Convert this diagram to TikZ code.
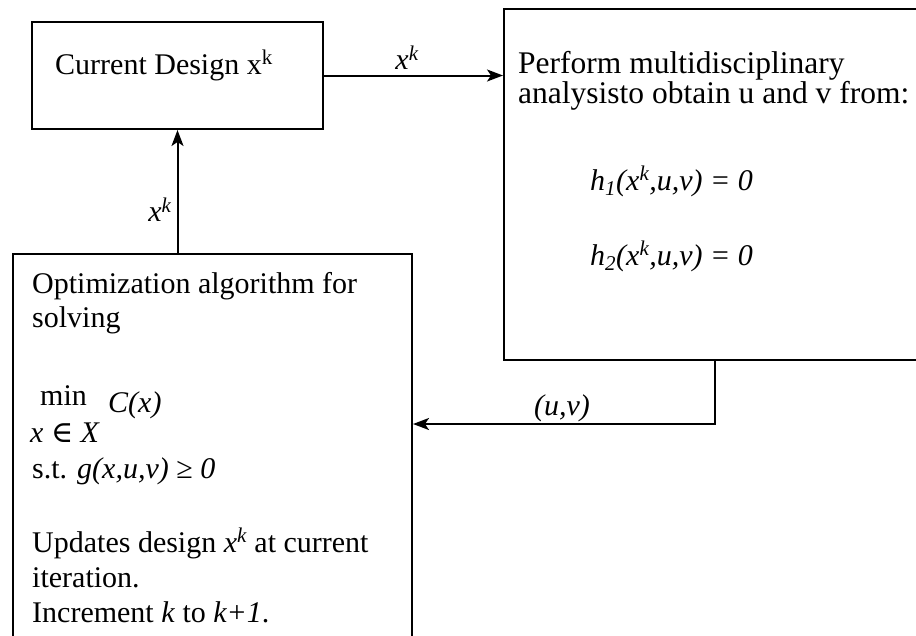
\documentclass[tikz,border=0pt]{standalone}
\usepackage{fontspec}
\setmainfont{Liberation Serif}
\newfontfamily\symfont{DejaVu Serif}
\usetikzlibrary{arrows.meta}
\begin{document}
\begin{tikzpicture}[x=1pt,y=-1pt,
  boxnode/.style={draw,line width=2pt,inner sep=0pt,anchor=north west},
  txt/.style={inner sep=0pt,anchor=base west,font=\fontsize{30}{36}\selectfont},
  rtxt/.style={txt,font=\fontsize{31.5}{38}\selectfont},
  lbl/.style={inner sep=0pt,anchor=center,font=\fontsize{30}{36}\selectfont\itshape},
  conn/.style={line width=2pt,-{Stealth[length=16pt,width=12pt,inset=4pt]}}
]
\useasboundingbox (0,0) rectangle (916,635);
\fill[white] (0,0) rectangle (916,635);
% boxes
\node[boxnode,minimum width=291pt,minimum height=107pt] (cd) at (31,21) {};
\node[boxnode,minimum width=430pt,minimum height=351pt] (rb) at (503,8) {};
\node[boxnode,minimum width=399pt,minimum height=400pt] (bb) at (12,253) {};
% texts
\node[txt] (t1) at (55,74) {Current Design x\textsuperscript{k}};
\node[rtxt] (t2) at (518,73) {Perform multidisciplinary};
\node[rtxt] (t3) at (518,103) {analysisto obtain u and v from:};
\node[txt] (t4) at (590,190) {\itshape h\textsubscript{1}(x\textsuperscript{k},u,v) = 0};
\node[txt] (t5) at (590,265) {\itshape h\textsubscript{2}(x\textsuperscript{k},u,v) = 0};
\node[txt] (b1) at (32,293) {Optimization algorithm for};
\node[txt] (b2) at (32,327) {solving};
\node[txt] (b3) at (40,405) {min};
\node[txt] (b4) at (108,412) {\itshape C(x)};
\node[txt] (b5) at (30,442) {\itshape x {\symfont\upshape ∈} X};
\node[txt] (b6) at (32,478) {s.t. \textit{g(x,u,v)} ≥ \textit{0}};
\node[txt] (b7) at (32,552) {Updates design \textit{x\textsuperscript{k}} at current};
\node[txt] (b8) at (32,587) {iteration.};
\node[txt] (b9) at (32,622) {Increment \textit{k} to \textit{k+1}.};
% connectors
\coordinate (uvturn) at (715,424);
\draw[conn] (cd.east) -- (cd.east -| rb.west);
\draw[conn] (bb.north -| cd.south) -- (cd.south);
\draw[conn] (rb.south -| uvturn) -- (uvturn) -- (uvturn -| bb.east);
% labels
\node[lbl] (l1) at (407,58) {x\textsuperscript{k}};
\node[lbl] (l2) at (160,210) {x\textsuperscript{k}};
\node[lbl] (l3) at (562,408) {(u,v)};
\end{tikzpicture}
\end{document}
